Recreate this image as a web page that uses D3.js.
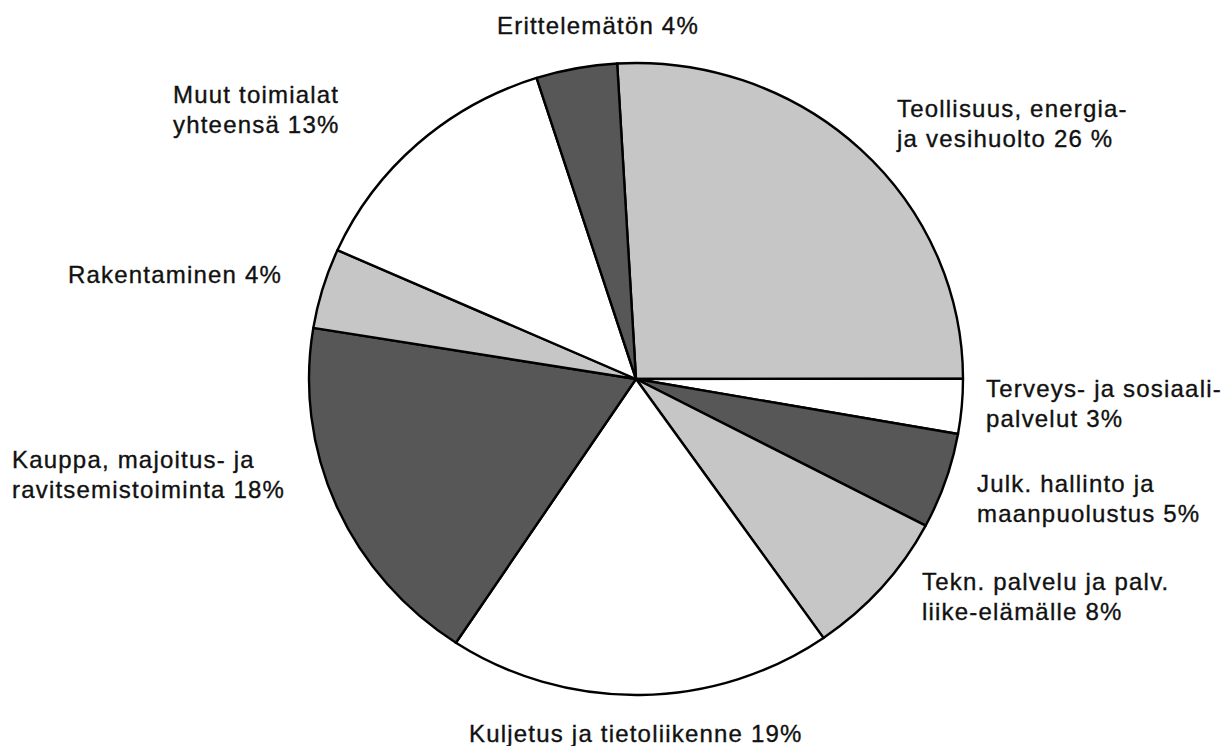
<!DOCTYPE html>
<html>
<head>
<meta charset="utf-8">
<script src="https://cdn.jsdelivr.net/npm/d3@7"></script>
<style>
  html, body { margin: 0; padding: 0; background: #fff; }
  svg { display: block; }
  text { font-family: "Liberation Sans", Arial, Helvetica, sans-serif; font-size: 24px; letter-spacing: 1.2px; fill: #111; stroke: #111; stroke-width: 0.35px; }
</style>
</head>
<body>
<svg id="chart" width="1228" height="746"></svg>
<script>
// Slices in clockwise order starting from the top (Teollisuus)
const categories = [
  "Teollisuus, energia- ja vesihuolto",
  "Terveys- ja sosiaalipalvelut",
  "Julk. hallinto ja maanpuolustus",
  "Tekn. palvelu ja palv. liike-elämälle",
  "Kuljetus ja tietoliikenne",
  "Kauppa, majoitus- ja ravitsemistoiminta",
  "Rakentaminen",
  "Muut toimialat yhteensä",
  "Erittelemätön"
];
const shares = [25.9, 2.8, 4.9, 7.6, 19.0, 18.3, 4.1, 13.4, 4.0];
const shades = ["light", "white", "dark", "light", "white", "dark", "light", "white", "dark"];
const labelLines = [
  ["Teollisuus, energia-", "ja vesihuolto 26 %"],
  ["Terveys- ja sosiaali-", "palvelut 3%"],
  ["Julk. hallinto ja", "maanpuolustus 5%"],
  ["Tekn. palvelu ja palv.", "liike-elämälle 8%"],
  ["Kuljetus ja tietoliikenne 19%"],
  ["Kauppa, majoitus- ja", "ravitsemistoiminta 18%"],
  ["Rakentaminen 4%"],
  ["Muut toimialat", "yhteensä 13%"],
  ["Erittelemätön 4%"]
];

const svg = d3.select("#chart");
const cx = 636, cy = 379, rx = 327, ry = 316;
const fillColor = { light: "#c6c6c6", white: "#ffffff", dark: "#575757" };

const pie = d3.pie().sort(null).value(d => d)
  .startAngle(-3.3 * Math.PI / 180)
  .endAngle(-3.3 * Math.PI / 180 + 2 * Math.PI);
const arcs = pie(shares);
const arc = d3.arc().innerRadius(0).outerRadius(rx);

const g = svg.append("g")
  .attr("transform", `translate(${cx},${cy}) scale(1,${ry / rx})`);

g.selectAll("path.slice")
  .data(arcs)
  .join("path")
  .attr("class", "slice")
  .attr("d", arc)
  .attr("fill", (d, i) => fillColor[shades[i]])
  .attr("stroke", "#000")
  .attr("stroke-width", 2.4)
  .attr("stroke-linejoin", "round")
  .attr("vector-effect", "non-scaling-stroke");

// label anchor positions (left x, first baseline) and line spacing
const labelPos = [
  [897, 117], [986, 397], [977, 492], [922, 590],
  [469, 742], [12, 468], [68, 283], [173, 103], [497, 34]
];
const lineH = 29.5;

const labels = svg.append("g");
labelLines.forEach((lines, i) => {
  const t = labels.append("text")
    .attr("x", labelPos[i][0])
    .attr("y", labelPos[i][1]);
  lines.forEach((ln, j) => {
    t.append("tspan")
      .attr("x", labelPos[i][0])
      .attr("dy", j === 0 ? 0 : lineH)
      .text(ln);
  });
});
</script>
</body>
</html>
